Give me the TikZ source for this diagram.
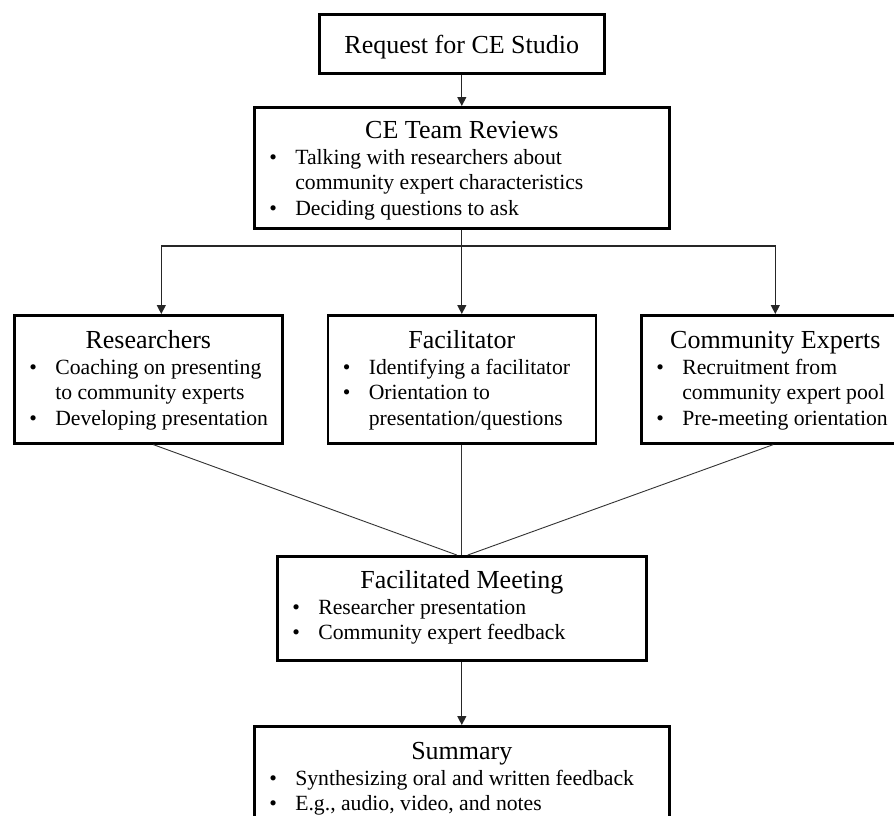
\documentclass[tikz,border=0pt]{standalone}
\usepackage{fontspec}
\setmainfont{Liberation Serif}
\usetikzlibrary{arrows.meta}
\newcommand{\ttl}[2]{{\centering\fontsize{26}{26}\selectfont\rule{0pt}{#1}#2\par}}
\newcommand{\bli}[1]{\noindent\hspace*{15pt}\makebox[26pt][l]{\textbullet}\mbox{#1}\par}
\newcommand{\blc}[1]{\noindent\hspace*{41pt}\mbox{#1}\par}
\newcommand{\bxc}[3]{\parbox[c][#2][t]{#1}{\fontsize{21.7}{25.7}\selectfont #3}}
\tikzset{
  bx/.style={draw=black, line width=2.6pt, inner sep=0pt, anchor=north west, fill=white},
  conn/.style={draw=black!85, line width=1.2pt, -{Triangle[length=9pt,width=9pt]}},
  link/.style={draw=black!80, line width=0.9pt}
}
\begin{document}
\begin{tikzpicture}[x=1pt,y=-1pt]
\clip (0,0) rectangle (894,815);
\fill[white] (0,0) rectangle (894,815);
\node[bx] (req) at (318,13) {\bxc{285pt}{59pt}{\ttl{39pt}{Request for CE Studio}}};
\node[bx] (ce) at (253,106) {\bxc{415pt}{121pt}{\ttl{31pt}{CE Team Reviews}\bli{Talking with researchers about}\blc{community expert characteristics}\bli{Deciding questions to ask}}};
\node[bx] (res) at (13,314) {\bxc{268pt}{128pt}{\ttl{33pt}{Researchers}\bli{Coaching on presenting}\blc{to community experts}\bli{Developing presentation}}};
\node[bx] (fac) at (326.5,314) {\bxc{268pt}{128pt}{\ttl{33pt}{Facilitator}\bli{Identifying a facilitator}\bli{Orientation to}\blc{presentation/questions}}};
\node[bx] (com) at (640,314) {\bxc{268pt}{128pt}{\ttl{33pt}{Community Experts}\bli{Recruitment from}\blc{community expert pool}\bli{Pre-meeting orientation}}};
\node[bx] (meet) at (276,555) {\bxc{369pt}{104pt}{\ttl{32pt}{Facilitated Meeting}\bli{Researcher presentation}\bli{Community expert feedback}}};
\node[bx] (sum) at (253,725) {\bxc{415pt}{105pt}{\ttl{33pt}{Summary}\bli{Synthesizing oral and written feedback}\bli{E.g., audio, video, and notes}}};
\coordinate (bus) at (460.5,246);
\draw[conn] (req.south) -- (ce.north);
\draw[conn] (ce.south) -- (fac.north);
\draw[conn] (bus) -| ([xshift=13pt]res.north);
\draw[conn] (bus) -| (com.north);
\draw[link] ([xshift=5pt]res.south) -- ([xshift=-5pt]meet.north);
\draw[link] (fac.south) -- (meet.north);
\draw[link] ([xshift=-2pt]com.south) -- ([xshift=6pt]meet.north);
\draw[conn] (meet.south) -- (sum.north);
\end{tikzpicture}
\end{document}
